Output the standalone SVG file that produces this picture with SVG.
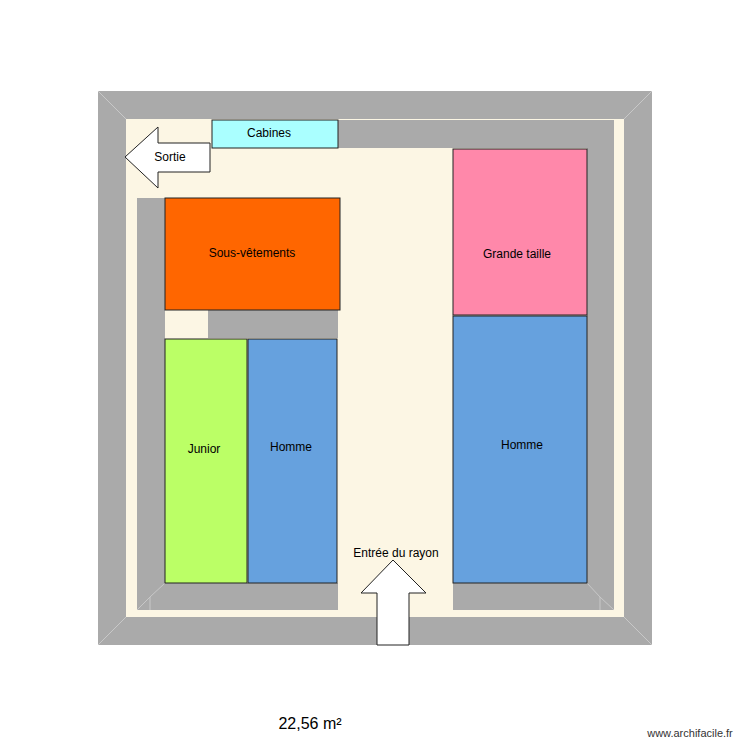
<svg xmlns="http://www.w3.org/2000/svg" width="750" height="750" viewBox="0 0 750 750">
<style>
.w{fill:#aaaaaa}
.r{stroke:#222;stroke-width:1}
.t{font-family:"Liberation Sans",Arial,sans-serif;font-size:12px;fill:#000;text-anchor:middle;dominant-baseline:middle}
.ar{fill:#fff;stroke:#222;stroke-width:1}
.sl{stroke:#c8c8c8;stroke-width:1;fill:none}
</style>
<rect width="750" height="750" fill="#fff"/>
<g id="walls">
<rect class="w" x="98" y="91" width="554" height="554"/>
<rect x="126" y="119" width="498" height="498" fill="#fcf6e4"/>
<path class="sl" d="M98 91L126 119M652 91L624 119M98 645L126 617M652 645L624 617"/>
<rect class="w" x="338" y="120" width="276" height="28"/>
<rect class="w" x="587" y="120" width="27" height="490"/>
<rect class="w" x="453" y="583" width="161" height="27"/>
<rect class="w" x="137" y="198" width="28" height="412"/>
<rect class="w" x="137" y="583" width="201" height="27"/>
<rect class="w" x="208" y="310" width="130" height="28"/>
<path class="sl" d="M137 610L150 597L165 583M614 610L600 597L587 583M600 597V610M150 597V610"/>
</g>
<g id="cabines"><rect class="r" x="212" y="120" width="126" height="28" fill="#aaffff"/><text class="t" x="269" y="134">Cabines</text></g>
<g id="sortie"><path class="ar" d="M125 157L158 127V143H210V172H158V188Z"/><text class="t" x="170" y="158">Sortie</text></g>
<g id="sous"><rect class="r" x="165" y="198" width="175" height="112" fill="#ff6600"/><text class="t" x="252" y="254">Sous-vêtements</text></g>
<g id="junior"><rect class="r" x="165" y="339" width="82" height="244" fill="#bbff66"/><text class="t" x="204" y="450">Junior</text></g>
<g id="homme1"><rect class="r" x="248" y="339" width="89" height="244" fill="#66a1de"/><text class="t" x="291" y="448">Homme</text></g>
<g id="grande"><rect class="r" x="453" y="149" width="134" height="166" fill="#ff88aa"/><text class="t" x="517" y="255">Grande taille</text></g>
<g id="homme2"><rect class="r" x="453" y="316" width="134" height="267" fill="#66a1de"/><text class="t" x="522" y="446">Homme</text></g>
<g id="entree"><path class="ar" d="M393 560L426 593H409V645H377V593H361Z"/><text class="t" x="396" y="554">Entrée du rayon</text></g>
<text class="t" x="310" y="725" style="font-size:16px">22,56 m²</text>
<text class="t" x="690" y="734" style="font-size:11px;fill:#333">www.archifacile.fr</text>
</svg>
